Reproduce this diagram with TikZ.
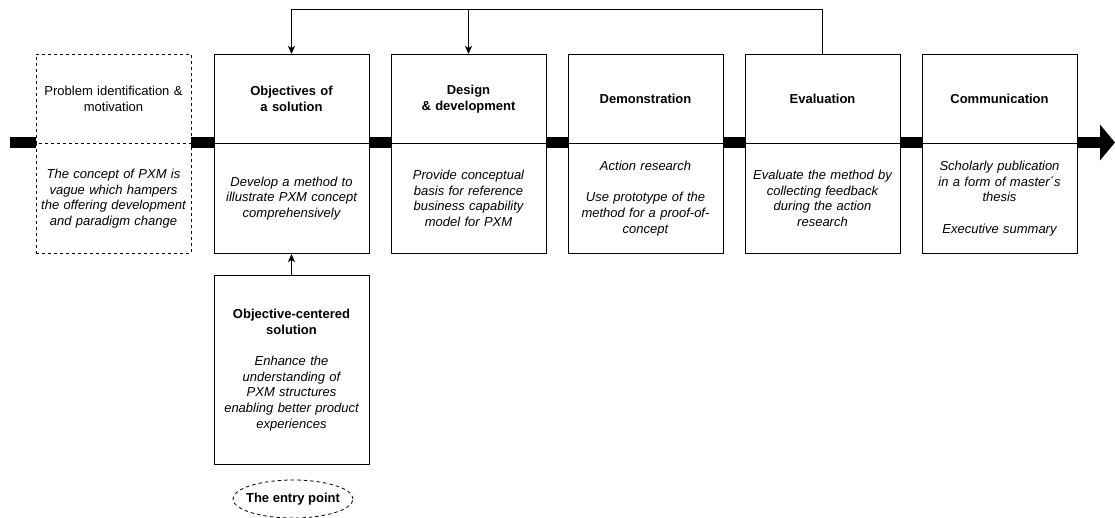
\documentclass[tikz,border=0pt]{standalone}
\usepackage{fontspec}
\setmainfont{Liberation Sans}
\usetikzlibrary{arrows.meta,shapes.geometric}
\begin{document}
\begin{tikzpicture}[x=1pt,y=-1pt,
  font=\fontsize{13}{15.7}\selectfont,
  head/.style={draw=black,line width=1pt,fill=white,minimum width=155pt,minimum height=89pt,
    inner sep=0pt,text width=152pt,align=center},
  body/.style={draw=black,line width=1pt,fill=white,minimum width=155pt,minimum height=110pt,
    inner sep=0pt,text width=152pt,align=center,font=\fontsize{13}{15.7}\selectfont\itshape},
  dashedbox/.style={dash pattern=on 3pt off 3pt},
  link/.style={line width=1pt,-{Stealth[length=8pt,width=7pt,inset=2pt]}},
  ttl/.style={font=\fontsize{13}{15.7}\selectfont\bfseries}
]
\useasboundingbox (0,0) rectangle (1115,518);

% main flow bar behind the boxes
\coordinate (flowstart) at (10,142.5);
\coordinate (flowend) at (1115,142.5);
\draw[line width=11pt,-{Triangle[length=15pt,width=35pt]}] (flowstart) -- (flowend);

% process steps: upper title half and lower description half
\node[head,dashedbox] (h1) at (113.5,99) {Problem identification \&\\ motivation};
\node[body,dashedbox] (b1) at (113.5,198.5) {The concept of PXM is\\ vague which hampers\\ the offering development\\ and paradigm change};

\node[head,ttl] (h2) at (291.5,99) {Objectives of\\ a solution};
\node[body] (b2) at (291.5,198.5) {Develop a method to\\ illustrate PXM concept\\ comprehensively};

\node[head,ttl] (h3) at (468.5,99) {Design\\ \& development};
\node[body] (b3) at (468.5,198.5) {Provide conceptual\\ basis for reference\\ business capability\\ model for PXM};

\node[head,ttl] (h4) at (645.5,99) {Demonstration};
\node[body] (b4) at (645.5,198.5) {Action research\\[15.7pt] Use prototype of the\\ method for a proof-of-\\ concept};

\node[head,ttl] (h5) at (822.5,99) {Evaluation};
\node[body] (b5) at (822.5,198.5) {Evaluate the method by\\ collecting feedback\\ during the action\\ research};

\node[head,ttl] (h6) at (999.5,99) {Communication};
\node[body] (b6) at (999.5,198.5) {Scholarly publication\\ in a form of master\textasciiacute s\\ thesis\\[15.7pt] Executive summary};

% entry point below the objectives step
\node[draw=black,line width=1pt,fill=white,minimum width=155pt,minimum height=188pt,
  inner sep=0pt,text width=152pt,align=center] (entry) at (291.5,370)
  {\textbf{Objective-centered}\\ \textbf{solution}\\[15.7pt]
   \itshape Enhance the\\ understanding of\\ PXM structures\\ enabling better product\\ experiences};
\node[inner sep=0pt,font=\fontsize{13}{15.7}\selectfont\bfseries] (ep) at (293,499) {The entry point};
\draw[line width=0.8pt,dash pattern=on 3.5pt off 3pt] (ep.center) ellipse [x radius=60pt, y radius=19pt];

\draw[link] (entry.north) -- (b2.south);

% feedback loop from evaluation
\coordinate (fb) at (822.5,10);
\draw[link] (h5.north) -- (fb) -| (h2.north);
\draw[link] (fb -| h3.north) -- (h3.north);
\end{tikzpicture}
\end{document}
